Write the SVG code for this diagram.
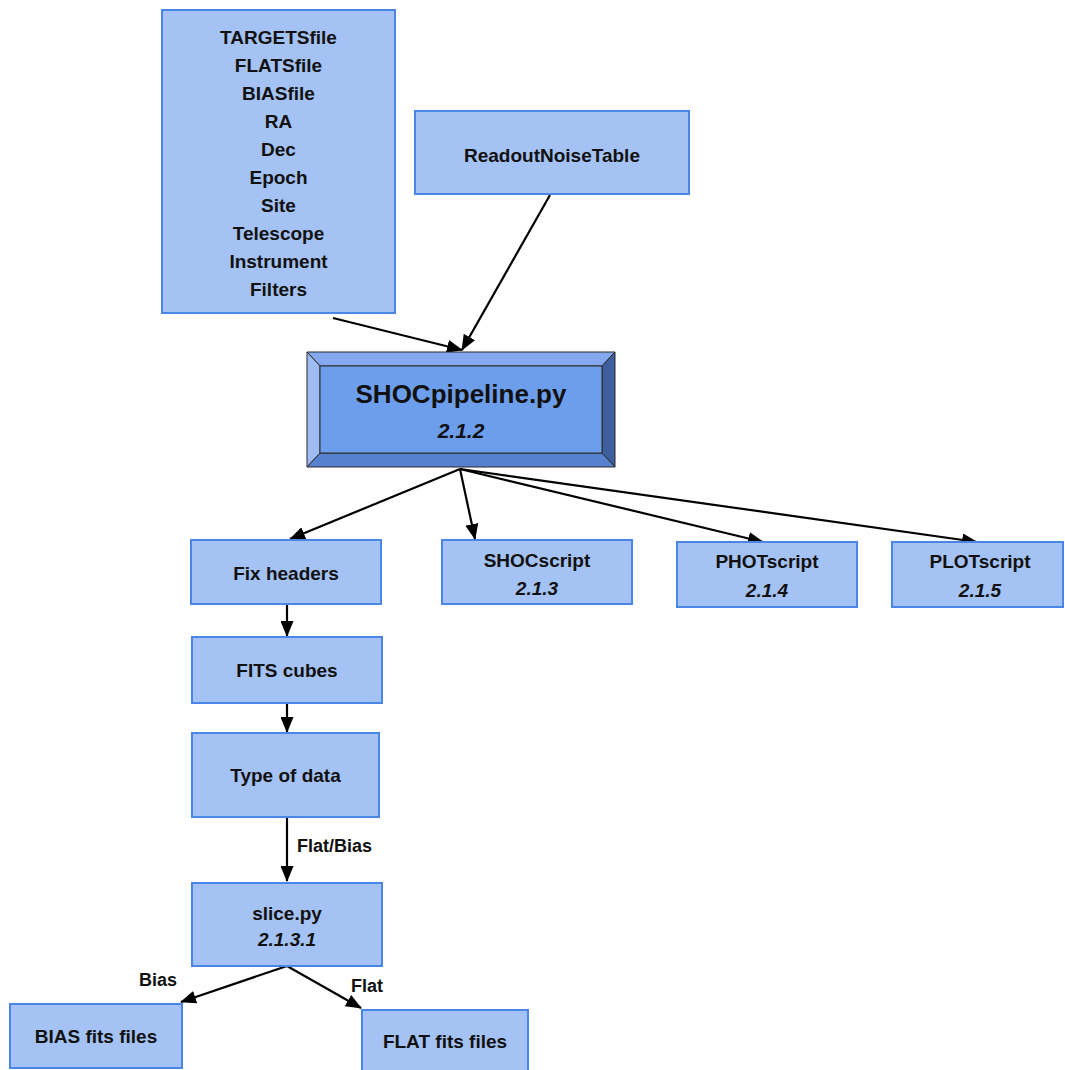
<svg xmlns="http://www.w3.org/2000/svg" width="1065" height="1070" viewBox="0 0 1065 1070">
  <style>
    .box { fill: #a4c2f4; stroke: #4a86e8; stroke-width: 2; }
    .t { font-family: "Liberation Sans", Arial, sans-serif; font-weight: bold; font-size: 19px; fill: #111; text-anchor: middle; }
    .v { font-style: italic; }
    .lbl { font-family: "Liberation Sans", Arial, sans-serif; font-weight: bold; font-size: 18px; fill: #111; }
    .edge { stroke: #000; stroke-width: 2.2; fill: none; marker-end: url(#arrow); }
    .bev { stroke: #2b2b2b; stroke-width: 1; }
  </style>
  <defs>
    <marker id="arrow" markerUnits="userSpaceOnUse" markerWidth="16" markerHeight="13" refX="15" refY="6.5" orient="auto">
      <path d="M0,0 L16,6.5 L0,13 z" fill="#000"/>
    </marker>
  </defs>
  <rect width="1065" height="1070" fill="#fff"/>

  <g id="connectors">
    <line class="edge" x1="333" y1="318" x2="462" y2="350"/>
    <line class="edge" x1="550" y1="195" x2="462" y2="350"/>
    <line class="edge" x1="460" y1="469" x2="290" y2="539"/>
    <line class="edge" x1="460" y1="469" x2="475" y2="539"/>
    <line class="edge" x1="460" y1="469" x2="763" y2="542"/>
    <line class="edge" x1="460" y1="469" x2="977" y2="542"/>
    <line class="edge" x1="287" y1="604" x2="287" y2="636"/>
    <line class="edge" x1="287" y1="703" x2="287" y2="732"/>
    <line class="edge" x1="287" y1="817" x2="287" y2="881"/>
    <line class="edge" x1="287" y1="966" x2="181" y2="1002"/>
    <line class="edge" x1="287" y1="966" x2="361" y2="1008"/>
    <text class="lbl" x="297" y="852">Flat/Bias</text>
    <text class="lbl" x="139" y="986">Bias</text>
    <text class="lbl" x="351" y="992">Flat</text>
  </g>

  <g id="inputs">
    <rect class="box" x="162" y="10" width="233" height="303"/>
    <text class="t" x="278.5" y="44">TARGETSfile</text>
    <text class="t" x="278.5" y="72">FLATSfile</text>
    <text class="t" x="278.5" y="100">BIASfile</text>
    <text class="t" x="278.5" y="128">RA</text>
    <text class="t" x="278.5" y="156">Dec</text>
    <text class="t" x="278.5" y="184">Epoch</text>
    <text class="t" x="278.5" y="212">Site</text>
    <text class="t" x="278.5" y="240">Telescope</text>
    <text class="t" x="278.5" y="268">Instrument</text>
    <text class="t" x="278.5" y="296">Filters</text>
  </g>

  <g id="readout-noise-table">
    <rect class="box" x="415" y="111" width="274" height="83"/>
    <text class="t" x="552" y="162">ReadoutNoiseTable</text>
  </g>

  <g id="shoc-pipeline">
    <polygon class="bev" points="307,352 615,352 602,366 320,366" fill="#84a9ee"/>
    <polygon class="bev" points="307,352 320,366 320,453 307,467" fill="#9dbcf3"/>
    <polygon class="bev" points="615,352 615,467 602,453 602,366" fill="#3f5e9e"/>
    <polygon class="bev" points="307,467 320,453 602,453 615,467" fill="#5581cf"/>
    <rect class="bev" x="320" y="366" width="282" height="87" fill="#6d9eeb"/>
    <text class="t" x="461" y="403" style="font-size:26px">SHOCpipeline.py</text>
    <text class="t v" x="461" y="438" style="font-size:21px">2.1.2</text>
  </g>

  <g id="fix-headers">
    <rect class="box" x="191" y="540" width="190" height="64"/>
    <text class="t" x="286" y="580">Fix headers</text>
  </g>

  <g id="shoc-script">
    <rect class="box" x="442" y="540" width="190" height="64"/>
    <text class="t" x="537" y="567">SHOCscript</text>
    <text class="t v" x="537" y="595">2.1.3</text>
  </g>

  <g id="phot-script">
    <rect class="box" x="677" y="542" width="180" height="65"/>
    <text class="t" x="767" y="568">PHOTscript</text>
    <text class="t v" x="767" y="597">2.1.4</text>
  </g>

  <g id="plot-script">
    <rect class="box" x="892" y="542" width="171" height="65"/>
    <text class="t" x="980" y="568">PLOTscript</text>
    <text class="t v" x="980" y="597">2.1.5</text>
  </g>

  <g id="fits-cubes">
    <rect class="box" x="192" y="637" width="190" height="66"/>
    <text class="t" x="287" y="677">FITS cubes</text>
  </g>

  <g id="type-of-data">
    <rect class="box" x="192" y="733" width="187" height="84"/>
    <text class="t" x="285.5" y="782">Type of data</text>
  </g>

  <g id="slice">
    <rect class="box" x="192" y="883" width="190" height="83"/>
    <text class="t" x="287" y="920">slice.py</text>
    <text class="t v" x="287" y="946">2.1.3.1</text>
  </g>

  <g id="bias-fits">
    <rect class="box" x="10" y="1004" width="172" height="64"/>
    <text class="t" x="96" y="1043">BIAS fits files</text>
  </g>

  <g id="flat-fits">
    <rect class="box" x="362" y="1010" width="166" height="62"/>
    <text class="t" x="445" y="1048">FLAT fits files</text>
  </g>
</svg>
